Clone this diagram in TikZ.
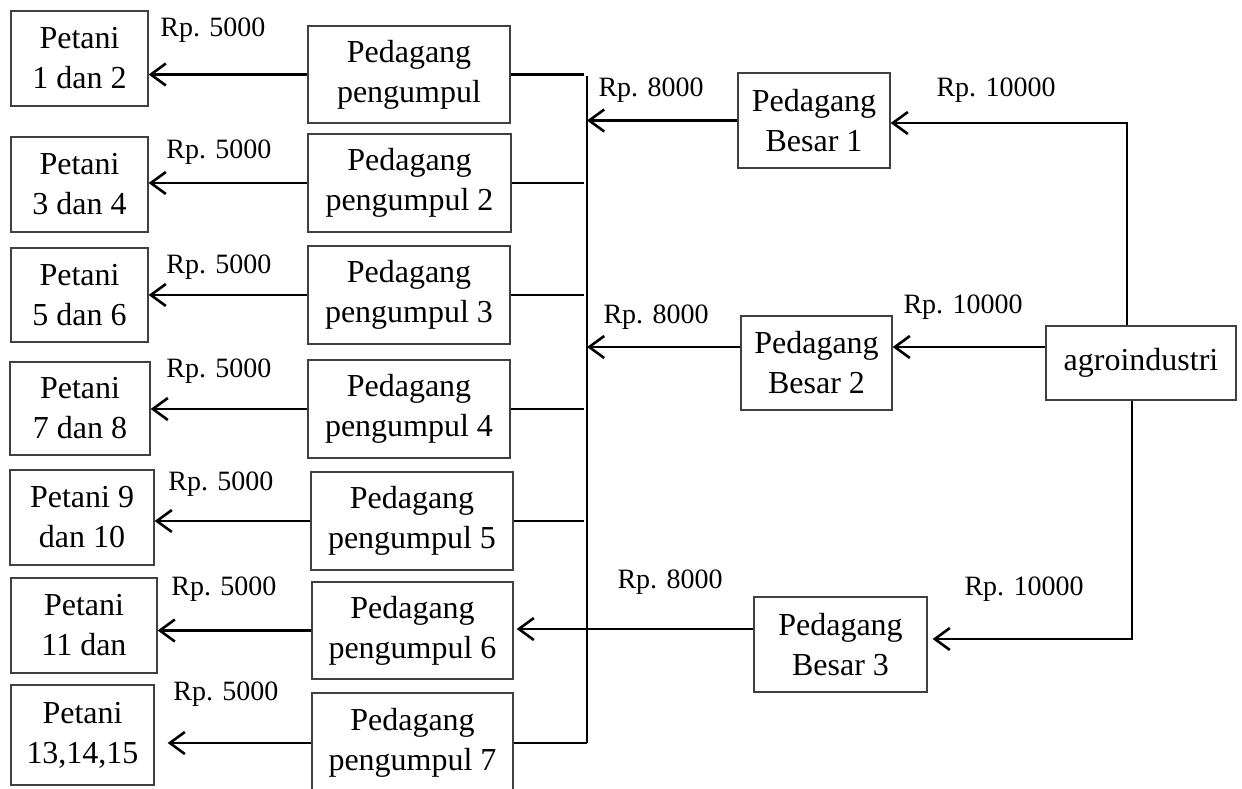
\documentclass[tikz,border=0pt]{standalone}
\usepackage{fontspec}
\setmainfont{Liberation Serif}
\usetikzlibrary{arrows.meta}
\begin{document}
\begin{tikzpicture}[x=1pt,y=-1pt,
  box/.style={draw=black!75, line width=1.3pt, inner sep=0pt, align=center, font=\fontsize{32}{40}\selectfont},
  conn/.style={line width=2.7pt},
  arr/.style={conn, -{Straight Barb[length=15pt,width=22pt,line width=2.6pt]}},
  lbl/.style={font=\fontsize{28}{30}\selectfont, anchor=base, inner sep=0pt}]
\useasboundingbox (0,0) rectangle (1242,789);
\fill[white] (0,0) rectangle (1242,789);
\clip (0,0) rectangle (1242,789);
% Petani
\node[box, minimum width=137pt, minimum height=95pt] (p1) at (79.5,58.5) {Petani\\1 dan 2};
\node[box, minimum width=137pt, minimum height=95pt] (p2) at (79.5,184.5) {Petani\\3 dan 4};
\node[box, minimum width=137pt, minimum height=94pt] (p3) at (79.5,295) {Petani\\5 dan 6};
\node[box, minimum width=140pt, minimum height=93pt] (p4) at (80,408.5) {Petani\\7 dan 8};
\node[box, minimum width=144pt, minimum height=95pt] (p5) at (82,517.5) {Petani 9\\dan 10};
\node[box, minimum width=146pt, minimum height=95pt] (p6) at (84,625.5) {Petani\\11 dan};
\node[box, minimum width=143pt, minimum height=100pt] (p7) at (82.5,735) {Petani\\13,14,15};
% Pedagang pengumpul
\node[box, minimum width=202pt, minimum height=97pt] (pp1) at (409,74.5) {Pedagang\\pengumpul};
\node[box, minimum width=203pt, minimum height=98pt] (pp2) at (409.5,183) {Pedagang\\pengumpul 2};
\node[box, minimum width=202pt, minimum height=98pt] (pp3) at (409,295) {Pedagang\\pengumpul 3};
\node[box, minimum width=202pt, minimum height=98pt] (pp4) at (409,409) {Pedagang\\pengumpul 4};
\node[box, minimum width=202pt, minimum height=98pt] (pp5) at (412,521) {Pedagang\\pengumpul 5};
\node[box, minimum width=201pt, minimum height=97pt] (pp6) at (412.5,630.5) {Pedagang\\pengumpul 6};
\node[box, minimum width=201pt, minimum height=100pt] (pp7) at (412.5,743) {Pedagang\\pengumpul 7};
% Pedagang besar, agroindustri
\node[box, minimum width=152pt, minimum height=95pt] (b1) at (814,120.5) {Pedagang\\Besar 1};
\node[box, minimum width=151pt, minimum height=94pt] (b2) at (816.5,363) {Pedagang\\Besar 2};
\node[box, minimum width=173pt, minimum height=95pt] (b3) at (840.5,644.5) {Pedagang\\Besar 3};
\node[box, minimum width=190pt, minimum height=74pt] (ag) at (1141,363) {agroindustri};
% bus
\coordinate (bt) at (587,76);
\coordinate (bb) at (pp7.east -| bt);
\draw[conn] (bt) -- (bb);
\foreach \i in {1,2,3,4,5} \draw[conn, shorten >=3pt] (pp\i.east) -- (pp\i.east -| bt);
\draw[conn] (pp7.east) -- (bb);
% arrows to petani
\foreach \i in {1,2,3,4,5,6} \draw[arr] (pp\i.west) -- (pp\i.west -| p\i.east);
\draw[arr, shorten >=13pt] (pp7.west) -- (pp7.west -| p7.east);
% besar to bus
\draw[arr] (b1.west) -- (b1.west -| bt);
\draw[arr] ([yshift=16pt]b2.west) -- ([yshift=16pt]b2.west -| bt);
\draw[arr, shorten >=3pt] ([yshift=15.5pt]b3.west) -- ([yshift=15.5pt]b3.west -| pp6.east);
% agroindustri
\coordinate (a1) at (1127,123);
\coordinate (a3) at (1132,639);
\draw[arr] (ag.north -| a1) -- (a1) -- (a1 -| b1.east);
\draw[arr] ([yshift=16pt]ag.west) -- ([yshift=16pt]b2.east);
\draw[arr, shorten >=5pt] (ag.south -| a3) -- (a3) -- (a3 -| b3.east);
% labels
\node[lbl] (l1) at (213,37) {Rp. 5000};
\node[lbl] (l2) at (219,158) {Rp. 5000};
\node[lbl] (l3) at (219,273) {Rp. 5000};
\node[lbl] (l4) at (219,377) {Rp. 5000};
\node[lbl] (l5) at (221,490) {Rp. 5000};
\node[lbl] (l6) at (224,595) {Rp. 5000};
\node[lbl] (l7) at (226,700) {Rp. 5000};
\node[lbl] (l8) at (651,97) {Rp. 8000};
\node[lbl] (l9) at (996,97) {Rp. 10000};
\node[lbl] (l10) at (656,323) {Rp. 8000};
\node[lbl] (l11) at (963,313) {Rp. 10000};
\node[lbl] (l12) at (670,588) {Rp. 8000};
\node[lbl] (l13) at (1024,595) {Rp. 10000};
\end{tikzpicture}
\end{document}
